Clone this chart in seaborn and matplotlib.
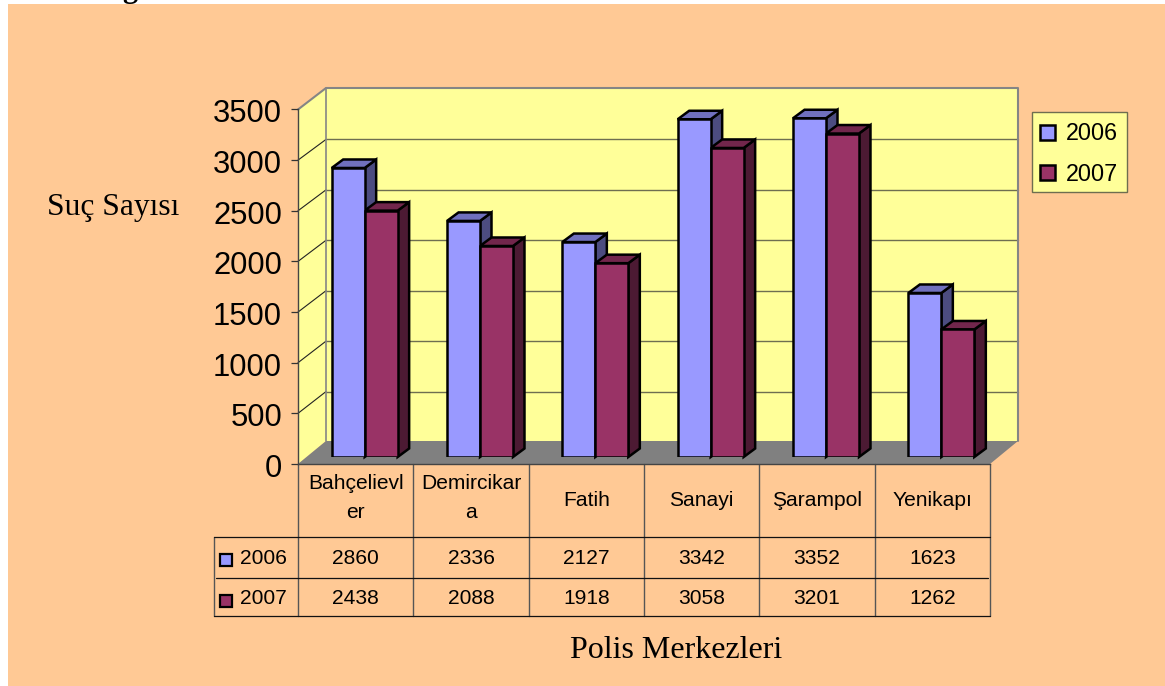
import matplotlib
matplotlib.use("Agg")
import matplotlib.pyplot as plt
import pandas as pd
import seaborn as sns
from matplotlib.patches import Polygon, Rectangle
from matplotlib.transforms import Affine2D, IdentityTransform

categories = ["Bahçelievler", "Demircikara", "Fatih", "Sanayi", "Şarampol", "Yenikapı"]
category_labels = ["Bahçelievl\ner", "Demircikar\na", "Fatih", "Sanayi", "Şarampol", "Yenikapı"]
values_2006 = [2860, 2336, 2127, 3342, 3352, 1623]
values_2007 = [2438, 2088, 1918, 3058, 3201, 1262]
years = ["2006", "2007"]
y_ticks = [0, 500, 1000, 1500, 2000, 2500, 3000, 3500]
y_title = "Suç Sayısı"
x_title = "Polis Merkezleri"

W, H = 1165, 686
BG, WALL, FLOOR = "#FFC995", "#FFFF99", "#808080"
FRONT = {"2006": "#9999FF", "2007": "#993366"}
TOP = {"2006": "#7070BE", "2007": "#72264C"}
SIDE = {"2006": "#4C4C80", "2007": "#4C1A33"}
SANS = "Liberation Sans"
SERIF = "Liberation Serif"

sns.set_theme(style="white")
plt.rcParams["font.family"] = [SANS, "DejaVu Sans"]
plt.rcParams["text.color"] = "black"

df = pd.DataFrame({
    "category": categories * 2,
    "year": [years[0]] * 6 + [years[1]] * 6,
    "value": values_2006 + values_2007,
})

fig = plt.figure(figsize=(W / 100, H / 100), dpi=100, facecolor="white")


def axes_px(left, top, right, bottom, **kw):
    return fig.add_axes([left / W, 1 - bottom / H, (right - left) / W, (bottom - top) / H], **kw)


# pixel canvas for background, walls and the data table
canvas = axes_px(0, 0, W, H, zorder=0)
canvas.set_xlim(0, W)
canvas.set_ylim(H, 0)
canvas.axis("off")
canvas.add_patch(Rectangle((8, 4), W - 8, H - 4, fc=BG, ec="none"))
canvas.text(122, -3, "g", family=SERIF, weight="bold", fontsize=22, color="black", va="baseline")

X0, X1, Y0, Y3500 = 298, 990, 464, 109.5
DX, DY = 28, 23
scale = (Y0 - Y3500) / max(y_ticks)
canvas.add_patch(Polygon([(X0, Y0), (X0 + DX, Y0 - DY), (X0 + DX, Y3500 - 21.5), (X0, Y3500)], fc=WALL, ec="none"))
canvas.add_patch(Rectangle((X0 + DX, Y3500 - 21.5), X1 - X0, Y0 - DY - Y3500 + 21.5, fc=WALL, ec="none"))
canvas.add_patch(Polygon([(X0, Y0), (X1, Y0), (X1 + DX, Y0 - DY), (X0 + DX, Y0 - DY)], fc=FLOOR, ec="none"))
for t in y_ticks[1:-1]:
    y = Y0 - t * scale + (t / max(y_ticks)) * 1.5
    yb = y - DY + 1
    canvas.plot([X0, X0 + DX], [Y0 - t * scale, yb], color="#222222", lw=0.8)
    canvas.plot([X0 + DX, X1 + DX], [yb, yb], color="#6E6E50", lw=1.0)
canvas.plot([X0, X0 + DX, X1 + DX, X1 + DX], [Y3500, Y3500 - 21.5, Y3500 - 21.5, Y0 - DY], color="#858585", lw=1.5)
canvas.plot([X0 + DX, X0 + DX], [Y3500 - 21.5, Y0 - DY], color="#858585", lw=1.2)

# data table
cell = (X1 - X0) / len(categories)
ROWS = [536.5, 578, 616]
TBL_LEFT = 214
for i in range(len(categories) + 1):
    canvas.plot([X0 + i * cell] * 2, [Y0, ROWS[-1]], color="#555555", lw=1.0)
canvas.plot([TBL_LEFT, TBL_LEFT], [ROWS[0], ROWS[-1]], color="#555555", lw=1.0)
canvas.plot([TBL_LEFT, X1], [ROWS[0]] * 2, color="#111111", lw=0.9)
canvas.plot([TBL_LEFT + 2, X1 - 2], [ROWS[1]] * 2, color="#111111", lw=0.9)
canvas.plot([TBL_LEFT, X1], [ROWS[2]] * 2, color="#111111", lw=0.9)
for i, lab in enumerate(category_labels):
    canvas.text(X0 + (i + 0.5) * cell, 498 if "\n" in lab else 500, lab, ha="center", va="center",
                fontsize=15.1, linespacing=1.72)
for r, (year, vals, yc) in enumerate(zip(years, [values_2006, values_2007], [557, 597])):
    for i, v in enumerate(vals):
        canvas.text(X0 + (i + 0.5) * cell, yc + 2, str(v), ha="center", va="center", fontsize=15.1)
    canvas.add_patch(Rectangle((220, yc - 3 + r), 12, 12, fc=FRONT[year], ec="black", lw=1.6))
    canvas.text(240, yc + 2, year, ha="left", va="center", fontsize=15.1)

canvas.text(113, 208, y_title, family=SERIF, ha="center", va="center", fontsize=22.7)
canvas.text(676, 650, x_title, family=SERIF, ha="center", va="center", fontsize=23)

# legend frame
canvas.add_patch(Rectangle((1032, 111.5), 95, 80.5, fc=WALL, ec="#6E6E50", lw=1.0))

# front plane: value axis with ticks
ax = axes_px(X0, Y3500, X1, Y0, zorder=1, facecolor="none")
ax.set_xlim(0, 1)
ax.set_ylim(0, max(y_ticks))
ax.set_xticks([])
ax.set_yticks(y_ticks)
ax.tick_params(axis="y", left=True, length=5, width=0.9, color="#333333", pad=6.5, labelsize=22.3, labelcolor="black")
for tick in ax.yaxis.get_major_ticks():
    tick.label1.set_transform(tick.label1.get_transform() + Affine2D().translate(0, -1.5))
for name, sp in ax.spines.items():
    sp.set_visible(name in ("left", "bottom"))
    sp.set_color("#444444")
    sp.set_linewidth(1.0)

# bars: plane set back from the front of the floor
BAR_DX, BAR_DY, BAR_SPAN = 9, 7, 353.7
bar_ax = axes_px(X0 + BAR_DX, Y0 - BAR_DY - BAR_SPAN, X1 + BAR_DX, Y0 - BAR_DY, zorder=2, facecolor="none")
sns.barplot(data=df, x="category", y="value", hue="year", hue_order=years, order=categories,
            palette=FRONT, width=0.572, gap=0, saturation=1, edgecolor="black", linewidth=1.8,
            ax=bar_ax, zorder=5)
bar_ax.set_xlim(-0.5, len(categories) - 0.5)
bar_ax.set_ylim(0, max(y_ticks))
bar_ax.set_xlabel("")
bar_ax.set_ylabel("")
bar_ax.set_xticks([])
bar_ax.set_yticks([])
for sp in bar_ax.spines.values():
    sp.set_visible(False)

EX, EY = 11.5, 8.5  # extrusion in pixels (display y goes up)
for z, (year, container) in enumerate(zip(years, bar_ax.containers)):
    for bar in container:
        x, w, h = bar.get_x(), bar.get_width(), bar.get_height()
        (xa, ya), (xb, yb) = bar_ax.transData.transform([(x, 0), (x + w, h)])
        side = [(xb, ya), (xb, yb), (xb + EX, yb + EY), (xb + EX, ya + EY)]
        top = [(xa, yb), (xb, yb), (xb + EX, yb + EY), (xa + EX, yb + EY)]
        for pts, col in ((side, SIDE[year]), (top, TOP[year])):
            bar_ax.add_patch(Polygon(pts, closed=True, fc=col, ec="black", lw=1.8, joinstyle="miter",
                                     transform=IdentityTransform(), clip_on=False, zorder=3 + z))

handles = [Rectangle((0, 0), 1, 1, fc=FRONT[y], ec="black", lw=1.8) for y in years]
leg = bar_ax.legend(handles, years, loc="upper left", bbox_to_anchor=(1032 / W, 1 - 114 / H),
                    bbox_transform=fig.transFigure, borderaxespad=0, frameon=False,
                    fontsize=16.8, handlelength=0.62, handleheight=0.62, handletextpad=0.46,
                    borderpad=0.36, labelspacing=0.75)

fig.savefig("out.png", dpi=100)
